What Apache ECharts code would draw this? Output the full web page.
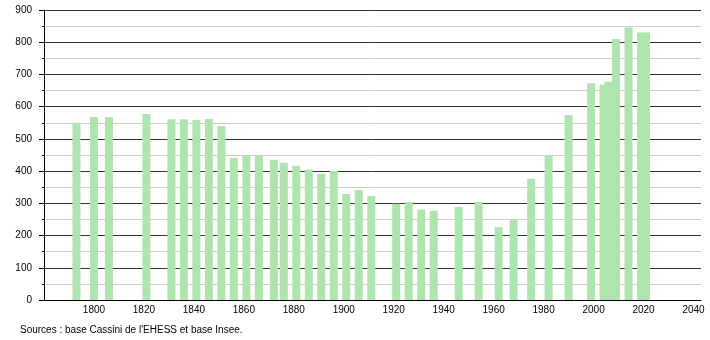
<!DOCTYPE html>
<html>
<head>
<meta charset="utf-8">
<script src="https://cdn.jsdelivr.net/npm/echarts@6/dist/echarts.min.js"></script>
<style>html,body{margin:0;padding:0;background:#fff;}#c{width:710px;height:340px;}</style>
</head>
<body>
<div id="c"></div>
<script>
const years = [1793,1800,1806,1821,1831,1836,1841,1846,1851,1856,1861,1866,1872,1876,1881,1886,1891,1896,1901,1906,1911,1921,1926,1931,1936,1946,1954,1962,1968,1975,1982,1990,1999,2004,2006,2009,2014,2019,2021];
const population = [550,568,568,577,561,561,559,562,540,441,448,448,435,426,416,404,392,400,329,341,323,299,304,280,277,289,304,226,251,376,448,574,673,668,677,810,846,830,830];
const xTickLabels = [1800,1820,1840,1860,1880,1900,1920,1940,1960,1980,2000,2020,2040];
const sourceText = "Sources : base Cassini de l'EHESS et base Insee.";

const chart = echarts.init(document.getElementById('c'), null, {renderer: 'canvas'});
const font = '"Liberation Sans", Arial, sans-serif';
chart.setOption({
  animation: false,
  backgroundColor: '#fff',
  grid: {left: 44, right: 9, top: 10, bottom: 40},
  xAxis: {
    type: 'value', min: 1780, max: 2043,
    axisLine: {show: true, lineStyle: {color: '#000', width: 1}},
    axisTick: {show: false},
    splitLine: {show: false},
    axisLabel: {customValues: xTickLabels, color: '#000', fontSize: 10, fontFamily: font, margin: 5,
      formatter: v => String(v)}
  },
  yAxis: {
    type: 'value', min: 0, max: 900, interval: 100,
    axisLine: {show: true, lineStyle: {color: '#000', width: 1}},
    axisTick: {show: true, length: 5, lineStyle: {color: '#000'}},
    minorTick: {show: true, splitNumber: 2, length: 2, lineStyle: {color: '#000'}},
    splitLine: {show: true, lineStyle: {color: '#333', width: 1}},
    minorSplitLine: {show: true, lineStyle: {color: '#ccc', width: 1}},
    axisLabel: {color: '#000', fontSize: 10, fontFamily: font, margin: 12, formatter: v => String(v)}
  },
  series: [{
    type: 'bar',
    data: years.map((y, i) => [y, population[i]]),
    barWidth: 8,
    itemStyle: {color: '#aee4ae'}
  }],
  graphic: [{
    type: 'text', left: 20, top: 325,
    style: {text: sourceText, fill: '#000', font: '10px ' + font}
  }]
});
</script>
</body>
</html>
